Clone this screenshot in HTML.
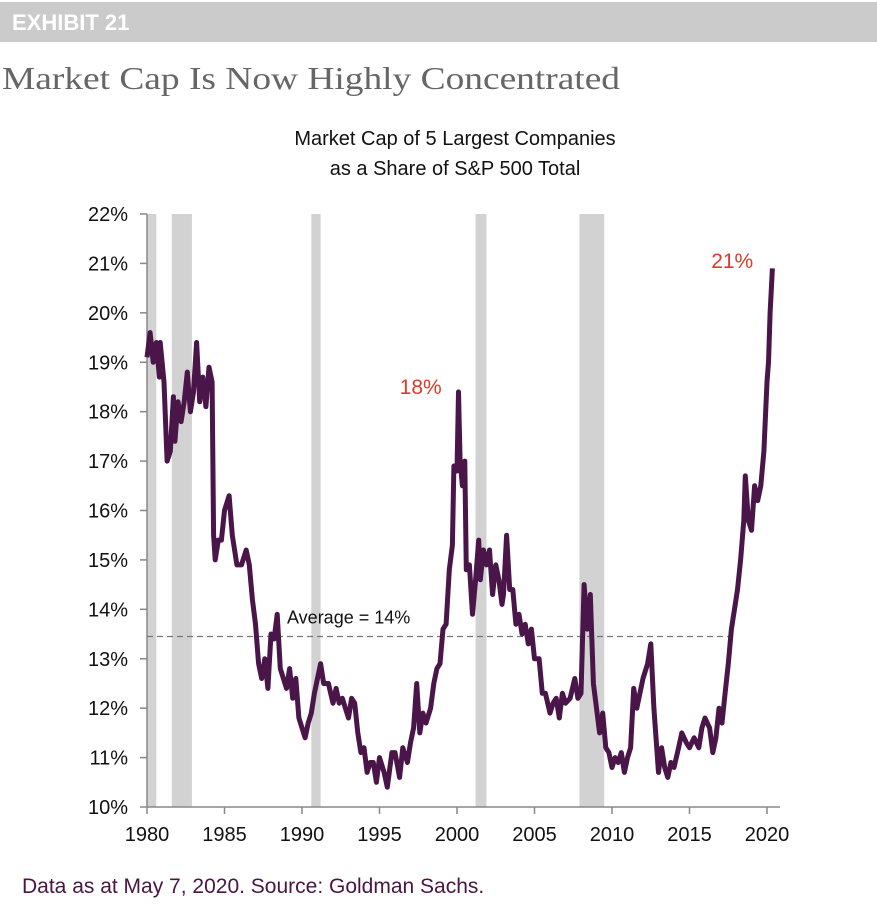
<!DOCTYPE html>
<html><head><meta charset="utf-8">
<style>
html,body{margin:0;padding:0;background:#fff;}
body{width:877px;height:909px;overflow:hidden;position:relative;font-family:"Liberation Sans",sans-serif;}
</style></head>
<body>
<svg width="877" height="909" viewBox="0 0 877 909" xmlns="http://www.w3.org/2000/svg">
<rect x="0" y="2" width="877" height="40" fill="#cbcbcb"/>
<text x="12" y="30" font-size="22" font-weight="bold" fill="#fff" font-family="Liberation Sans">EXHIBIT 21</text>
<text x="2" y="89" font-size="32" fill="#666" font-family="Liberation Serif" textLength="618" lengthAdjust="spacingAndGlyphs">Market Cap Is Now Highly Concentrated</text>
<text x="455" y="145" font-size="20" fill="#111" text-anchor="middle">Market Cap of 5 Largest Companies</text>
<text x="455" y="175" font-size="20" fill="#111" text-anchor="middle">as a Share of S&amp;P 500 Total</text>
<g id="plot"></g>
<text x="22" y="893" font-size="21" fill="#4a1545">Data as at May 7, 2020. Source: Goldman Sachs.</text>
</svg>
<script>
const yearsX = [1980,1980.2,1980.4,1980.6,1980.8,1980.85,1981.1,1981.3,1981.5,1981.7,1981.8,1982,1982.2,1982.4,1982.6,1982.8,1983,1983.2,1983.4,1983.6,1983.8,1984,1984.2,1984.3,1984.4,1984.6,1984.8,1985,1985.3,1985.5,1985.8,1986.1,1986.4,1986.6,1986.8,1987,1987.2,1987.4,1987.6,1987.8,1988,1988.2,1988.4,1988.6,1988.8,1989,1989.2,1989.4,1989.6,1989.8,1990,1990.2,1990.4,1990.6,1990.8,1991,1991.2,1991.4,1991.7,1992,1992.2,1992.4,1992.6,1992.8,1993,1993.2,1993.4,1993.6,1993.8,1994,1994.2,1994.4,1994.6,1994.8,1995,1995.3,1995.5,1995.8,1996,1996.3,1996.5,1996.8,1997,1997.2,1997.4,1997.6,1997.8,1998,1998.3,1998.5,1998.7,1998.9,1999.1,1999.3,1999.5,1999.7,1999.8,2000,2000.1,2000.2,2000.35,2000.5,2000.6,2000.8,2001,2001.2,2001.4,2001.5,2001.7,2001.9,2002.1,2002.3,2002.5,2002.7,2002.9,2003,2003.2,2003.4,2003.6,2003.8,2004,2004.2,2004.4,2004.6,2004.8,2005,2005.3,2005.5,2005.7,2006,2006.2,2006.4,2006.6,2006.8,2007,2007.3,2007.6,2007.8,2008,2008.2,2008.4,2008.6,2008.8,2009,2009.2,2009.4,2009.6,2009.8,2010,2010.2,2010.4,2010.6,2010.8,2011,2011.2,2011.4,2011.6,2011.8,2012,2012.3,2012.5,2012.7,2013,2013.2,2013.4,2013.6,2013.8,2014,2014.3,2014.5,2014.8,2015,2015.3,2015.6,2015.8,2016,2016.3,2016.5,2016.7,2016.9,2017.1,2017.3,2017.5,2017.7,2017.9,2018.1,2018.3,2018.5,2018.6,2018.8,2019,2019.2,2019.4,2019.6,2019.8,2020,2020.1,2020.2,2020.35];
const shareValues = [19.1,19.6,19.0,19.4,18.7,19.4,18.6,17.0,17.2,18.3,17.4,18.2,17.8,18.2,18.8,18.0,18.4,19.4,18.2,18.7,18.1,18.9,18.6,15.5,15.0,15.4,15.4,16.0,16.3,15.5,14.9,14.9,15.2,14.9,14.2,13.7,12.9,12.6,13.0,12.4,13.5,13.4,13.9,12.8,12.6,12.4,12.8,12.2,12.6,11.8,11.6,11.4,11.7,11.9,12.3,12.6,12.9,12.5,12.5,12.1,12.4,12.1,12.2,12.0,11.8,12.2,12.1,11.5,11.1,11.2,10.7,10.9,10.9,10.5,11.0,10.7,10.4,11.1,11.1,10.6,11.2,10.9,11.3,11.6,12.5,11.5,11.9,11.7,12.0,12.5,12.8,12.9,13.6,13.7,14.8,15.3,16.9,16.8,18.4,17.0,16.5,17.0,14.8,14.9,13.9,14.6,15.4,14.6,15.2,14.9,15.2,14.3,14.9,14.6,14.1,14.3,15.5,14.4,14.4,13.7,13.9,13.5,13.7,13.3,13.6,13.0,13.0,12.3,12.3,11.9,12.1,12.2,11.8,12.3,12.1,12.2,12.6,12.2,12.3,14.5,13.6,14.3,12.5,12.0,11.5,11.9,11.2,11.1,10.8,11.0,10.9,11.1,10.7,11.0,11.2,12.4,12.0,12.3,12.6,12.9,13.3,12.0,10.7,11.2,10.8,10.6,10.9,10.8,11.2,11.5,11.3,11.2,11.4,11.2,11.6,11.8,11.6,11.1,11.4,12.0,11.7,12.3,12.9,13.6,14.0,14.4,15.0,15.8,16.7,15.8,15.6,16.5,16.2,16.5,17.2,18.6,19.0,20.0,20.9];
const recessionStart = [1980.0,1981.6,1990.6,2001.2,2007.9];
const recessionEnd = [1980.6,1982.9,1991.2,2001.9,2009.5];
const yTickValues = [10,11,12,13,14,15,16,17,18,19,20,21,22];
const xTickValues = [1980,1985,1990,1995,2000,2005,2010,2015,2020];
const averageValue = 13.45;
const annotations = [{year:1996.3,value:18.5,label:"18%"},{year:2016.4,value:21.05,label:"21%"}];

const NS="http://www.w3.org/2000/svg";
const g=document.getElementById('plot');
const X0=147,X1=767,Y0=807,Y1=214;
const xs=v=>X0+(v-1980)/40*(X1-X0);
const ys=v=>Y0-(v-10)/12*(Y0-Y1);
function mk(t,a,p){const e=document.createElementNS(NS,t);for(const k in a)e.setAttribute(k,a[k]);(p||g).appendChild(e);return e;}

recessionStart.forEach((s,i)=>{
  const r=mk('rect',{x:xs(s),y:Y1,width:xs(recessionEnd[i])-xs(s),height:Y0-Y1,fill:'#d2d2d2'});
  
  
});
const yax=mk('line',{x1:X0,y1:Y1,x2:X0,y2:Y0,stroke:'#888','stroke-width':1.5});


const xax=mk('line',{x1:X0,y1:Y0,x2:780,y2:Y0,stroke:'#888','stroke-width':1.5});


yTickValues.forEach(v=>{
  mk('line',{x1:X0-7,y1:ys(v),x2:X0,y2:ys(v),stroke:'#888','stroke-width':1.5});
  const t=mk('text',{x:128,y:ys(v)+7,'font-size':20,'text-anchor':'end',fill:'#111'});
  t.textContent=v+'%';
  
  
});
xTickValues.forEach(v=>{
  mk('line',{x1:xs(v),y1:Y0,x2:xs(v),y2:Y0+7,stroke:'#888','stroke-width':1.5});
  const t=mk('text',{x:xs(v),y:Y0+43-9,'font-size':20,'text-anchor':'middle',fill:'#111'});
  t.textContent=v;
  
  
});
const avg=mk('line',{x1:X0,y1:ys(averageValue),x2:xs(2017.9),y2:ys(averageValue),stroke:'#777','stroke-width':1.3,'stroke-dasharray':'6,4'});


const at=mk('text',{x:287,y:ys(averageValue)-13,'font-size':18,fill:'#111'});
at.textContent='Average = 14%';


let d='';
yearsX.forEach((yr,i)=>{d+=(i?'L':'M')+xs(yr).toFixed(1)+','+ys(shareValues[i]).toFixed(1);});
const line=mk('path',{d:d,fill:'none',stroke:'#4a1548','stroke-width':5,'stroke-linejoin':'round'});


annotations.forEach(a=>{
  const t=mk('text',{x:xs(a.year),y:ys(a.value)+7,'font-size':21,fill:'#e0392b'});
  t.textContent=a.label;
  
  
});
</script>
</body></html>
